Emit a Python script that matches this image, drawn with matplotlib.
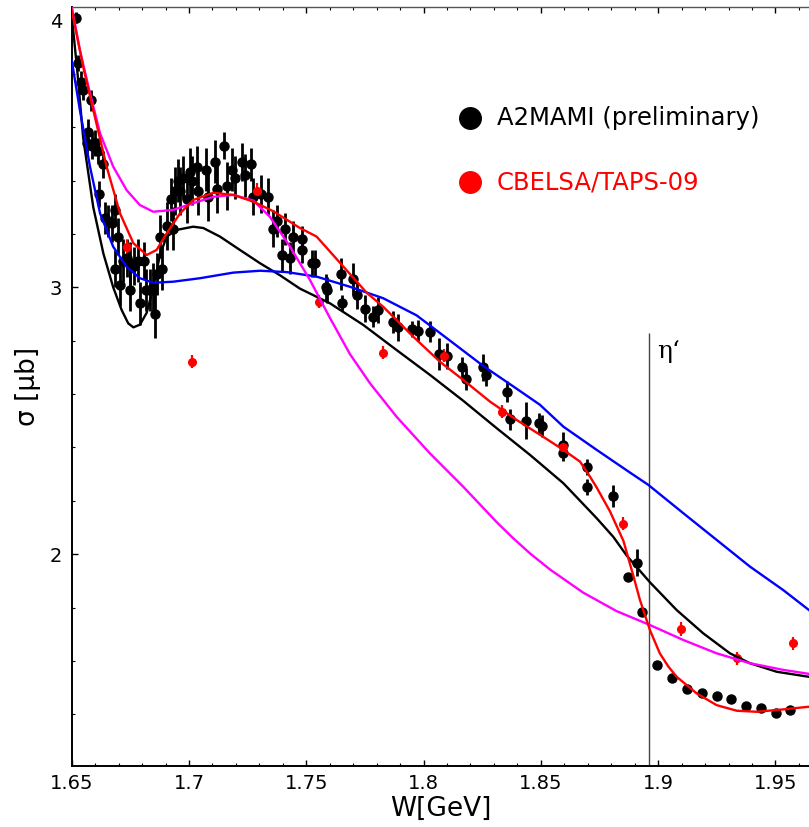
import matplotlib
matplotlib.use("Agg")
import matplotlib.pyplot as plt
from matplotlib.ticker import MultipleLocator
import numpy as np

# A2MAMI (preliminary) cross sections: W [GeV], sigma [mub], error
a2_w = [1.6518, 1.6528, 1.6538, 1.6549, 1.6567, 1.6571, 1.6581, 1.6585, 1.6599, 1.6613,
        1.6618, 1.6635, 1.6642, 1.6656, 1.6670, 1.6685, 1.6685, 1.6699, 1.6706, 1.6720,
        1.6735, 1.6749, 1.6749, 1.6767, 1.6784, 1.6791, 1.6808, 1.6817, 1.6834, 1.6848,
        1.6855, 1.6862, 1.6876, 1.6884, 1.6905, 1.6922, 1.6933, 1.6940, 1.6954, 1.6962,
        1.6976, 1.6990, 1.7004, 1.7012, 1.7033, 1.7040, 1.7072, 1.7082, 1.7111, 1.7118,
        1.7149, 1.7161, 1.7182, 1.7196, 1.7225, 1.7239, 1.7263, 1.7274, 1.7306, 1.7338,
        1.7359, 1.7374, 1.7395, 1.7409, 1.7431, 1.7445, 1.7480, 1.7480, 1.7523, 1.7537,
        1.7584, 1.7590, 1.7647, 1.7651, 1.7700, 1.7717, 1.7750, 1.7786, 1.7807, 1.7868,
        1.7892, 1.7949, 1.7977, 1.8027, 1.8065, 1.8101, 1.8162, 1.8183, 1.8253, 1.8268,
        1.8354, 1.8368, 1.8436, 1.8493, 1.8506, 1.8596, 1.8596, 1.8698, 1.8698, 1.8806,
        1.8873, 1.8908, 1.8930, 1.8994, 1.9058, 1.9121, 1.9185, 1.9249, 1.9310, 1.9374,
        1.9437, 1.9501, 1.9562]
a2_sig = [4.01, 3.84, 3.77, 3.74, 3.54, 3.58, 3.70, 3.53, 3.54, 3.51,
          3.35, 3.46, 3.26, 3.25, 3.24, 3.29, 3.07, 3.19, 3.01, 3.10,
          3.11, 3.09, 2.99, 3.08, 3.10, 2.94, 3.10, 2.99, 2.99, 3.00,
          2.90, 3.05, 3.19, 3.07, 3.23, 3.33, 3.22, 3.36, 3.40, 3.36,
          3.41, 3.33, 3.43, 3.40, 3.45, 3.36, 3.44, 3.34, 3.47, 3.37,
          3.53, 3.38, 3.44, 3.41, 3.47, 3.42, 3.46, 3.34, 3.35, 3.34,
          3.22, 3.25, 3.12, 3.22, 3.11, 3.19, 3.18, 3.14, 3.09, 3.09,
          3.00, 2.99, 3.05, 2.94, 3.03, 2.97, 2.92, 2.89, 2.915, 2.87,
          2.85, 2.843, 2.838, 2.834, 2.75, 2.743, 2.70, 2.657, 2.70, 2.671,
          2.609, 2.506, 2.50, 2.491, 2.481, 2.409, 2.378, 2.328, 2.253, 2.218,
          1.916, 1.969, 1.785, 1.585, 1.538, 1.494, 1.479, 1.469, 1.457, 1.432,
          1.423, 1.404, 1.417]
a2_err = [0.02, 0.03, 0.04, 0.04, 0.05, 0.05, 0.04, 0.05, 0.05, 0.05,
          0.05, 0.05, 0.06, 0.06, 0.07, 0.06, 0.07, 0.07, 0.08, 0.08,
          0.07, 0.08, 0.08, 0.07, 0.08, 0.08, 0.07, 0.08, 0.08, 0.09,
          0.09, 0.08, 0.08, 0.08, 0.09, 0.08, 0.08, 0.09, 0.08, 0.09,
          0.08, 0.09, 0.09, 0.09, 0.08, 0.09, 0.08, 0.09, 0.08, 0.09,
          0.05, 0.09, 0.08, 0.08, 0.07, 0.08, 0.06, 0.07, 0.07, 0.07,
          0.07, 0.06, 0.06, 0.06, 0.06, 0.06, 0.05, 0.05, 0.05, 0.05,
          0.05, 0.05, 0.06, 0.03, 0.06, 0.05, 0.05, 0.04, 0.05, 0.04,
          0.05, 0.03, 0.04, 0.04, 0.06, 0.05, 0.04, 0.04, 0.05, 0.04,
          0.04, 0.04, 0.07, 0.04, 0.04, 0.05, 0.03, 0.03, 0.03, 0.04,
          0.01, 0.05, 0.01, 0.01, 0.01, 0.01, 0.01, 0.01, 0.01, 0.01,
          0.01, 0.01, 0.01]

# CBELSA/TAPS-09
cb_w = [1.6737, 1.7015, 1.7288, 1.7555, 1.7826, 1.8088, 1.8335, 1.8596, 1.8849, 1.9096, 1.9335, 1.9576]
cb_sig = [3.152, 2.721, 3.362, 2.946, 2.755, 2.744, 2.534, 2.400, 2.115, 1.720, 1.610, 1.667]
cb_err = [0.025, 0.025, 0.03, 0.025, 0.025, 0.025, 0.025, 0.025, 0.025, 0.025, 0.025, 0.025]

# model curves
black_w = [1.6500, 1.6525, 1.6549, 1.6592, 1.6635, 1.6677, 1.6713, 1.6741, 1.6763, 1.6791,
           1.6820, 1.6848, 1.6876, 1.6905, 1.6948, 1.7018, 1.7061, 1.7132, 1.7217, 1.7303,
           1.7388, 1.7473, 1.7601, 1.7743, 1.7885, 1.8027, 1.8169, 1.8312, 1.8454, 1.8596,
           1.8738, 1.8809, 1.8866, 1.8965, 1.9079, 1.9192, 1.9306, 1.9391, 1.9505, 1.9643]
black_sig = [4.02, 3.80, 3.56, 3.30, 3.127, 3.00, 2.915, 2.865, 2.85, 2.86,
             2.905, 3.00, 3.12, 3.19, 3.215, 3.227, 3.222, 3.19, 3.14, 3.09,
             3.045, 2.995, 2.94, 2.859, 2.765, 2.672, 2.575, 2.472, 2.372, 2.266,
             2.135, 2.065, 1.995, 1.895, 1.791, 1.704, 1.629, 1.592, 1.56, 1.541]

blue_w = [1.6500, 1.6535, 1.6578, 1.6621, 1.6677, 1.6734, 1.6791, 1.6848, 1.6933, 1.7047,
          1.7189, 1.7303, 1.7416, 1.7544, 1.7686, 1.7828, 1.7970, 1.8113, 1.8255, 1.8397,
          1.8496, 1.8596, 1.8738, 1.8880, 1.8958, 1.9107, 1.9249, 1.9391, 1.9533, 1.9643]
blue_sig = [3.851, 3.664, 3.452, 3.277, 3.152, 3.077, 3.034, 3.017, 3.021, 3.034,
            3.055, 3.062, 3.057, 3.04, 3.002, 2.959, 2.895, 2.80, 2.705, 2.62,
            2.56, 2.478, 2.391, 2.306, 2.26, 2.154, 2.054, 1.954, 1.866, 1.791]

magenta_w = [1.6500, 1.6535, 1.6578, 1.6621, 1.6677, 1.6734, 1.6791, 1.6848, 1.6933, 1.7018,
             1.7104, 1.7189, 1.7274, 1.7345, 1.7431, 1.7516, 1.7601, 1.7686, 1.7772, 1.7885,
             1.8027, 1.8169, 1.8312, 1.8376, 1.8454, 1.8539, 1.8681, 1.8823, 1.8965, 1.9107,
             1.9249, 1.9391, 1.9533, 1.9643]
magenta_sig = [4.051, 3.889, 3.727, 3.577, 3.452, 3.364, 3.308, 3.283, 3.29, 3.315,
               3.339, 3.346, 3.325, 3.264, 3.152, 3.027, 2.885, 2.75, 2.64, 2.515,
               2.378, 2.253, 2.12, 2.065, 2.003, 1.943, 1.856, 1.787, 1.735, 1.679,
               1.629, 1.592, 1.567, 1.552]

red_w = [1.6500, 1.6549, 1.6592, 1.6649, 1.6706, 1.6763, 1.6820, 1.6862, 1.6905, 1.6962,
         1.7018, 1.7104, 1.7189, 1.7274, 1.7359, 1.7473, 1.7544, 1.7615, 1.7686, 1.7757,
         1.7828, 1.7956, 1.8070, 1.8169, 1.8283, 1.8397, 1.8510, 1.8596, 1.8667, 1.8710,
         1.8738, 1.8795, 1.8852, 1.8894, 1.8922, 1.8965, 1.9007, 1.9043, 1.9079, 1.9164,
         1.9249, 1.9335, 1.9420, 1.9533, 1.9643]
red_sig = [4.039, 3.826, 3.664, 3.452, 3.277, 3.165, 3.121, 3.14, 3.202, 3.277,
           3.327, 3.354, 3.346, 3.321, 3.285, 3.222, 3.19, 3.12, 3.05, 2.98,
           2.927, 2.815, 2.721, 2.653, 2.572, 2.503, 2.44, 2.391, 2.347, 2.29,
           2.25, 2.16, 2.05, 1.92, 1.83, 1.716, 1.629, 1.58, 1.541, 1.479,
           1.435, 1.414, 1.41, 1.419, 1.429]

eta_prime_w = 1.896
eta_line_top = 2.83

x_range = (1.65, 1.9643)
y_range = (1.208, 4.051)

fig = plt.figure(figsize=(8.09, 8.27), dpi=100)
ax = fig.add_axes([0.0886, 0.0741, 0.9114, 0.9178])

ax.errorbar(a2_w, a2_sig, yerr=a2_err, fmt='o', color='black', ms=6.5,
            elinewidth=2.0, capsize=0, zorder=3)
ax.errorbar(cb_w, cb_sig, yerr=cb_err, fmt='o', color='#ff0000', ms=5.5,
            elinewidth=1.6, capsize=0, zorder=3)

ax.plot(black_w, black_sig, color='black', lw=1.7, zorder=4)
ax.plot(blue_w, blue_sig, color='#0000ff', lw=1.7, zorder=4)
ax.plot(magenta_w, magenta_sig, color='#ff00ff', lw=1.7, zorder=4)
ax.plot(red_w, red_sig, color='#ff0000', lw=1.7, zorder=4)

ax.vlines(eta_prime_w, y_range[0], eta_line_top, color='#444444', lw=1.0, zorder=2)
ax.text(eta_prime_w + 0.0035, 2.76, "\u03b7\u2018", family='DejaVu Serif',
        fontsize=18, va='center', ha='left')

# legend drawn by hand
ax.plot([0.540], [0.853], 'o', color='black', ms=15.5, transform=ax.transAxes, clip_on=False)
ax.text(0.5764, 0.853, "A2MAMI (preliminary)", transform=ax.transAxes,
        fontsize=17.5, va='center', ha='left', color='black')
ax.plot([0.540], [0.769], 'o', color='#ff0000', ms=15.5, transform=ax.transAxes, clip_on=False)
ax.text(0.5764, 0.769, "CBELSA/TAPS-09", transform=ax.transAxes,
        fontsize=17.5, va='center', ha='left', color='#ff0000')

ax.set_xlim(*x_range)
ax.set_ylim(*y_range)
ax.xaxis.set_minor_locator(MultipleLocator(0.01))
ax.yaxis.set_minor_locator(MultipleLocator(0.2))
ax.set_xticks([1.65, 1.7, 1.75, 1.8, 1.85, 1.9, 1.95])
ax.set_xticklabels(['1.65', '1.7', '1.75', '1.8', '1.85', '1.9', '1.95'])
ax.set_yticks([2, 3, 4])
ax.set_yticklabels(['2', '3', '4'])

ax.tick_params(which='both', direction='in', top=True, right=False, labelsize=14)
ax.tick_params(axis='x', which='both', pad=6)
ax.tick_params(axis='y', which='both', pad=7)
ax.tick_params(which='major', length=4.5, width=1.0)
ax.tick_params(which='minor', length=2.5, width=0.8)

ax.spines['right'].set_visible(False)
for side in ['left', 'bottom']:
    ax.spines[side].set_linewidth(1.4)
ax.spines['top'].set_linewidth(1.0)
ax.spines['top'].set_color('#555555')

ax.set_xlabel("W[GeV]", fontsize=19, labelpad=2)
ax.set_ylabel("\u03c3 [\u03bcb]", fontsize=19, labelpad=6)

fig.savefig("out.png", dpi=100)
